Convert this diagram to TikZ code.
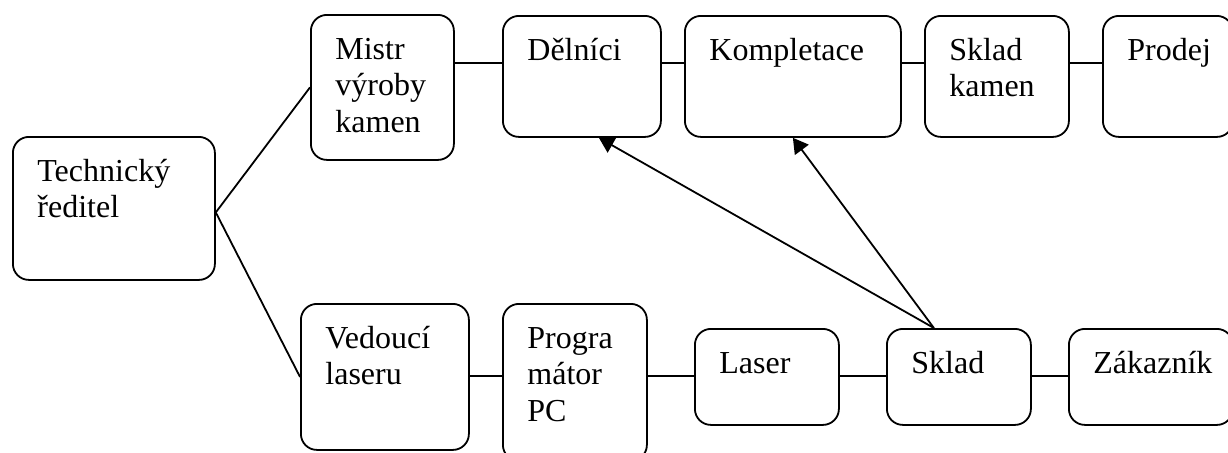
\documentclass[tikz,border=0pt]{standalone}
\usepackage{fontspec}
\setmainfont{Liberation Serif}
\usetikzlibrary{arrows.meta}

% lines of a box, baseline at the first line
\newcommand{\boxlines}[1]{\begin{tabular}[t]{@{}l@{}}#1\end{tabular}}

\tikzset{
  unit/.style={draw, line width=0.9pt, rounded corners=8pt, anchor=north west, inner sep=0pt},
  unittext/.style={anchor=base west, inner sep=0pt,
    font=\fontsize{16}{18.4}\selectfont, xshift=12.5pt, yshift=-22.5pt},
  link/.style={line width=0.9pt},
  flow/.style={line width=0.9pt, -{Triangle[length=7.5pt, width=8.5pt]}}
}

\begin{document}
\begin{tikzpicture}[x=0.5pt, y=-0.5pt]
  \useasboundingbox (0,0) rectangle (1228,452);

  % Draw the boxes (left, top, width, height)
  \foreach \name/\x/\y/\w/\h/\txt in {
    tech/12/136/202/143/{Technický\\ředitel},
    mistr/310/14/143/145/{Mistr\\výroby\\kamen},
    delnici/502/15/158/121/{Dělníci},
    kompletace/684/15/216/121/{Kompletace},
    skladkamen/924/15/144/121/{Sklad\\kamen},
    prodej/1102/15/130/121/{Prodej},
    vedouci/300/303/168/146/{Vedoucí\\laseru},
    program/502/303/144/157/{Progra\\mátor\\PC},
    laser/694/328/144/96/{Laser},
    sklad/886/328/144/96/{Sklad},
    zakaznik/1068/328/164/96/{Zákazník}}
  {
    \node[unit, minimum width=\w*0.5pt, minimum height=\h*0.5pt] (\name) at (\x,\y) {};
    \node[unittext] (\name-text) at (\name.north west) {\boxlines{\txt}};
  }

  % Lines from the director to both branches
  \draw[link] ([yshift=-2pt]tech.east) -- (mistr.west);
  \draw[link] ([yshift=-2pt]tech.east) -- (vedouci.west);

  % Links along the top and the bottom row
  \coordinate (toprow) at (0,63);
  \coordinate (bottomrow) at (0,376);
  \foreach \a/\b in {mistr/delnici, delnici/kompletace, kompletace/skladkamen, skladkamen/prodej}
    \draw[link] (\a.east |- toprow) -- (\b.west |- toprow);
  \foreach \a/\b in {vedouci/program, program/laser, laser/sklad, sklad/zakaznik}
    \draw[link] (\a.east |- bottomrow) -- (\b.west |- bottomrow);

  % Arrows from the store up to the workshop
  \draw[flow] ([xshift=-12.5pt]sklad.north) -- ([xshift=8.5pt]delnici.south);
  \draw[flow] ([xshift=-12.5pt]sklad.north) -- (kompletace.south);
\end{tikzpicture}
\end{document}
